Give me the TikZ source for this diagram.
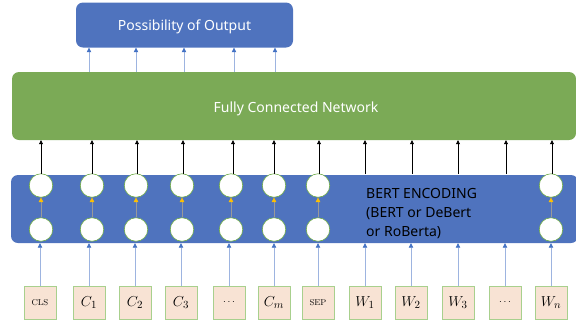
\documentclass[tikz,border=0pt]{standalone}
\usepackage{fontspec}
\newfontfamily\yh{Noto Sans}
\usetikzlibrary{arrows.meta,calc}
\definecolor{obox}{HTML}{4F73BE}
\definecolor{fcgreen}{HTML}{7BAA56}
\definecolor{peach}{HTML}{F8E3D4}
\definecolor{lgreen}{HTML}{A8D08D}
\definecolor{cgreen}{HTML}{70AD47}
\definecolor{lblue}{HTML}{9DB4E0}
\definecolor{dblue}{HTML}{4472C4}
\definecolor{gold}{HTML}{FFC000}
\tikzset{
  bigbox/.style={rounded corners=7pt, draw=none, inner sep=0pt},
  inbox/.style={draw=lgreen, line width=0.8pt, fill=peach, minimum width=32pt, minimum height=33pt, inner sep=0pt},
  cell/.style={circle, draw=cgreen, line width=0.6pt, fill=white, minimum size=23.5pt, inner sep=0pt},
  blk/.style={line width=0.6pt, black, -{Triangle[width=4pt,length=4pt]}},
  bluearr/.style={line width=0.7pt, lblue, -{Triangle[width=4.5pt,length=4.5pt,fill=dblue,color=dblue]}},
  goldarr/.style={line width=0.6pt, gray!80, -{Triangle[width=4.5pt,length=4.5pt,fill=gold,color=gold]}},
  lbl/.style={font=\yh\fontsize{14}{19}\selectfont, text height=10pt, text depth=0pt}
}
\begin{document}
\begin{tikzpicture}[x=1pt, y=-1pt]
\useasboundingbox (0,0) rectangle (576,322);
% big boxes
\node[bigbox, fill=obox, minimum width=217pt, minimum height=45pt, text=white, lbl] (out) at (184.5,25) {Possibility of Output};
\node[bigbox, fill=fcgreen, minimum width=564pt, minimum height=68pt, text=white, lbl] (fc) at (294,106) {};
\node[lbl, text=white, inner sep=0pt] (fctext) at (296,107) {Fully Connected Network};
\node[bigbox, fill=obox, minimum width=567pt, minimum height=68pt] (enc) at (294.5,209) {};
% arrows fc -> out
\foreach \x [count=\i] in {89,136,184,234,275} {
  \coordinate (fo\i) at (\x,72);
  \draw[bluearr] (fo\i) -- (fo\i |- out.south);
}
% input boxes
\foreach \x/\t [count=\i] in {40/{\fontsize{8.5}{10}\selectfont CLS},89/{$C_1$},135/{$C_2$},181/{$C_3$},229/{\fontsize{10}{10}\selectfont$\cdots$},274/{$C_m$},318/{\fontsize{8.5}{10}\selectfont SEP},365/{$W_1$},411/{$W_2$},458/{$W_3$},505/{\fontsize{10}{10}\selectfont$\cdots$},551/{$W_n$}} {
  \node[inbox, font=\fontsize{15}{17}\selectfont] (in\i) at (\x,302.5) {\t};
  \draw[bluearr] (in\i.north) -- (in\i.north |- enc.south);
}
% circles
\foreach \x [count=\i] in {41,92,136,182,231,274,318,551} {
  \node[cell] (b\i) at (\x,229.5) {};
  \node[cell] (t\i) at (\x,185.5) {};
  \draw[goldarr] (b\i.north) -- (t\i.south);
}
% black arrows enc -> fc
\foreach \x [count=\i] in {41,92,137,183,233,274,319,365,412,458,506,552} {
  \coordinate (u\i) at (\x,174);
  \draw[blk] (u\i) -- (u\i |- fc.south);
}
\node[font=\yh\fontsize{14}{19}\selectfont, anchor=base west, align=left, text=black, inner sep=0pt] (enctext) at (366,236) {BERT ENCODING\\(BERT or DeBert\\or RoBerta)};
\end{tikzpicture}
\end{document}
